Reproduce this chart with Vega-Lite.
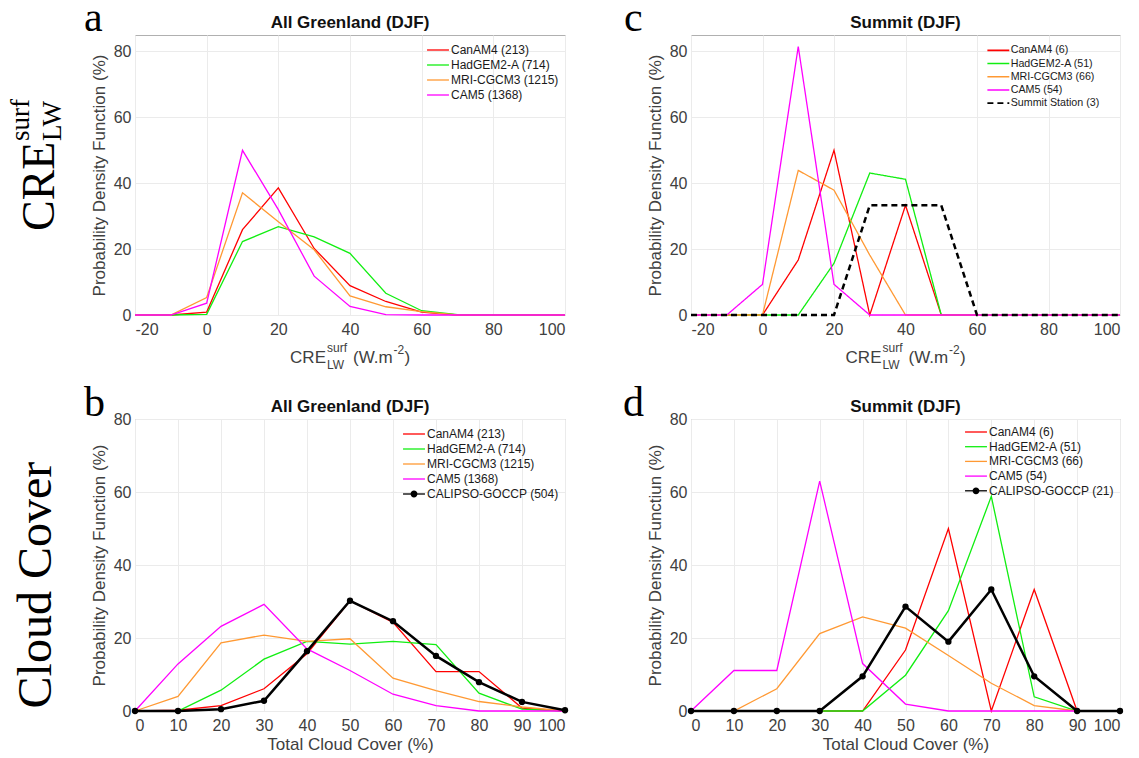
{
  "$schema": "https://vega.github.io/schema/vega-lite/v6.json",
  "padding": {"left": 6, "top": -4, "right": 5, "bottom": 5},
  "bounds": "flush",
  "background": "white",
  "config": {
    "font": "Liberation Sans",
    "view": {"stroke": "#b0b0b0"},
    "axis": {"domain": false, "ticks": false, "grid": true, "gridColor": "#ebebeb", "labelFont": "Liberation Sans", "labelFontSize": 16, "labelColor": "#404040", "titleFont": "Liberation Sans", "titleFontSize": 17, "titleFontWeight": "normal", "titleColor": "#404040"},
    "axisX": {"labelPadding": 6, "titlePadding": 3},
    "axisY": {"labelPadding": 4, "titlePadding": 5}
  },
  "datasets": {
    "a": [
      {"s":"CanAM4 (213)","x":-20,"y":0},{"s":"CanAM4 (213)","x":-10,"y":0},{"s":"CanAM4 (213)","x":0,"y":0.9},{"s":"CanAM4 (213)","x":10,"y":25.9},{"s":"CanAM4 (213)","x":20,"y":38.6},{"s":"CanAM4 (213)","x":30,"y":20.2},{"s":"CanAM4 (213)","x":40,"y":8.9},{"s":"CanAM4 (213)","x":50,"y":4.1},{"s":"CanAM4 (213)","x":60,"y":0.9},{"s":"CanAM4 (213)","x":70,"y":0},{"s":"CanAM4 (213)","x":80,"y":0},{"s":"CanAM4 (213)","x":90,"y":0},{"s":"CanAM4 (213)","x":100,"y":0},
      {"s":"HadGEM2-A (714)","x":-20,"y":0},{"s":"HadGEM2-A (714)","x":-10,"y":0},{"s":"HadGEM2-A (714)","x":0,"y":0.2},{"s":"HadGEM2-A (714)","x":10,"y":22.3},{"s":"HadGEM2-A (714)","x":20,"y":26.8},{"s":"HadGEM2-A (714)","x":30,"y":23.7},{"s":"HadGEM2-A (714)","x":40,"y":18.7},{"s":"HadGEM2-A (714)","x":50,"y":6.6},{"s":"HadGEM2-A (714)","x":60,"y":1.3},{"s":"HadGEM2-A (714)","x":70,"y":0.1},{"s":"HadGEM2-A (714)","x":80,"y":0},{"s":"HadGEM2-A (714)","x":90,"y":0},{"s":"HadGEM2-A (714)","x":100,"y":0},
      {"s":"MRI-CGCM3 (1215)","x":-20,"y":0},{"s":"MRI-CGCM3 (1215)","x":-10,"y":0},{"s":"MRI-CGCM3 (1215)","x":0,"y":5.3},{"s":"MRI-CGCM3 (1215)","x":10,"y":37.1},{"s":"MRI-CGCM3 (1215)","x":20,"y":28.3},{"s":"MRI-CGCM3 (1215)","x":30,"y":19.8},{"s":"MRI-CGCM3 (1215)","x":40,"y":5.8},{"s":"MRI-CGCM3 (1215)","x":50,"y":2.5},{"s":"MRI-CGCM3 (1215)","x":60,"y":1.0},{"s":"MRI-CGCM3 (1215)","x":70,"y":0},{"s":"MRI-CGCM3 (1215)","x":80,"y":0},{"s":"MRI-CGCM3 (1215)","x":90,"y":0},{"s":"MRI-CGCM3 (1215)","x":100,"y":0},
      {"s":"CAM5 (1368)","x":-20,"y":0},{"s":"CAM5 (1368)","x":-10,"y":0},{"s":"CAM5 (1368)","x":0,"y":3.6},{"s":"CAM5 (1368)","x":10,"y":50},{"s":"CAM5 (1368)","x":20,"y":32},{"s":"CAM5 (1368)","x":30,"y":11.8},{"s":"CAM5 (1368)","x":40,"y":2.6},{"s":"CAM5 (1368)","x":50,"y":0.1},{"s":"CAM5 (1368)","x":60,"y":0},{"s":"CAM5 (1368)","x":70,"y":0},{"s":"CAM5 (1368)","x":80,"y":0},{"s":"CAM5 (1368)","x":90,"y":0},{"s":"CAM5 (1368)","x":100,"y":0}
    ],
    "c": [
      {"s":"CanAM4 (6)","x":-20,"y":0},{"s":"CanAM4 (6)","x":-10,"y":0},{"s":"CanAM4 (6)","x":0,"y":0},{"s":"CanAM4 (6)","x":10,"y":16.7},{"s":"CanAM4 (6)","x":20,"y":50},{"s":"CanAM4 (6)","x":30,"y":0},{"s":"CanAM4 (6)","x":40,"y":33.3},{"s":"CanAM4 (6)","x":50,"y":0},{"s":"CanAM4 (6)","x":60,"y":0},{"s":"CanAM4 (6)","x":70,"y":0},{"s":"CanAM4 (6)","x":80,"y":0},{"s":"CanAM4 (6)","x":90,"y":0},{"s":"CanAM4 (6)","x":100,"y":0},
      {"s":"HadGEM2-A (51)","x":-20,"y":0},{"s":"HadGEM2-A (51)","x":-10,"y":0},{"s":"HadGEM2-A (51)","x":0,"y":0},{"s":"HadGEM2-A (51)","x":10,"y":0},{"s":"HadGEM2-A (51)","x":20,"y":15.7},{"s":"HadGEM2-A (51)","x":30,"y":43.1},{"s":"HadGEM2-A (51)","x":40,"y":41.2},{"s":"HadGEM2-A (51)","x":50,"y":0},{"s":"HadGEM2-A (51)","x":60,"y":0},{"s":"HadGEM2-A (51)","x":70,"y":0},{"s":"HadGEM2-A (51)","x":80,"y":0},{"s":"HadGEM2-A (51)","x":90,"y":0},{"s":"HadGEM2-A (51)","x":100,"y":0},
      {"s":"MRI-CGCM3 (66)","x":-20,"y":0},{"s":"MRI-CGCM3 (66)","x":-10,"y":0},{"s":"MRI-CGCM3 (66)","x":0,"y":0},{"s":"MRI-CGCM3 (66)","x":10,"y":43.9},{"s":"MRI-CGCM3 (66)","x":20,"y":37.9},{"s":"MRI-CGCM3 (66)","x":30,"y":18.2},{"s":"MRI-CGCM3 (66)","x":40,"y":0},{"s":"MRI-CGCM3 (66)","x":50,"y":0},{"s":"MRI-CGCM3 (66)","x":60,"y":0},{"s":"MRI-CGCM3 (66)","x":70,"y":0},{"s":"MRI-CGCM3 (66)","x":80,"y":0},{"s":"MRI-CGCM3 (66)","x":90,"y":0},{"s":"MRI-CGCM3 (66)","x":100,"y":0},
      {"s":"CAM5 (54)","x":-20,"y":0},{"s":"CAM5 (54)","x":-10,"y":0},{"s":"CAM5 (54)","x":0,"y":9.3},{"s":"CAM5 (54)","x":10,"y":81.5},{"s":"CAM5 (54)","x":20,"y":9.3},{"s":"CAM5 (54)","x":30,"y":0},{"s":"CAM5 (54)","x":40,"y":0},{"s":"CAM5 (54)","x":50,"y":0},{"s":"CAM5 (54)","x":60,"y":0},{"s":"CAM5 (54)","x":70,"y":0},{"s":"CAM5 (54)","x":80,"y":0},{"s":"CAM5 (54)","x":90,"y":0},{"s":"CAM5 (54)","x":100,"y":0},
      {"s":"Summit Station (3)","x":-20,"y":0},{"s":"Summit Station (3)","x":-10,"y":0},{"s":"Summit Station (3)","x":0,"y":0},{"s":"Summit Station (3)","x":10,"y":0},{"s":"Summit Station (3)","x":20,"y":0},{"s":"Summit Station (3)","x":30,"y":33.3},{"s":"Summit Station (3)","x":40,"y":33.3},{"s":"Summit Station (3)","x":50,"y":33.3},{"s":"Summit Station (3)","x":60,"y":0},{"s":"Summit Station (3)","x":70,"y":0},{"s":"Summit Station (3)","x":80,"y":0},{"s":"Summit Station (3)","x":90,"y":0},{"s":"Summit Station (3)","x":100,"y":0}
    ],
    "b": [
      {"s":"CanAM4 (213)","x":0,"y":0},{"s":"CanAM4 (213)","x":10,"y":0.2},{"s":"CanAM4 (213)","x":20,"y":1.5},{"s":"CanAM4 (213)","x":30,"y":6.1},{"s":"CanAM4 (213)","x":40,"y":15.7},{"s":"CanAM4 (213)","x":50,"y":30.2},{"s":"CanAM4 (213)","x":60,"y":24.3},{"s":"CanAM4 (213)","x":70,"y":10.8},{"s":"CanAM4 (213)","x":80,"y":10.8},{"s":"CanAM4 (213)","x":90,"y":0.8},{"s":"CanAM4 (213)","x":100,"y":0},
      {"s":"HadGEM2-A (714)","x":0,"y":0},{"s":"HadGEM2-A (714)","x":10,"y":0},{"s":"HadGEM2-A (714)","x":20,"y":5.7},{"s":"HadGEM2-A (714)","x":30,"y":14.2},{"s":"HadGEM2-A (714)","x":40,"y":19.1},{"s":"HadGEM2-A (714)","x":50,"y":18.3},{"s":"HadGEM2-A (714)","x":60,"y":19.1},{"s":"HadGEM2-A (714)","x":70,"y":18.2},{"s":"HadGEM2-A (714)","x":80,"y":4.9},{"s":"HadGEM2-A (714)","x":90,"y":0.5},{"s":"HadGEM2-A (714)","x":100,"y":0},
      {"s":"MRI-CGCM3 (1215)","x":0,"y":0},{"s":"MRI-CGCM3 (1215)","x":10,"y":4.0},{"s":"MRI-CGCM3 (1215)","x":20,"y":18.7},{"s":"MRI-CGCM3 (1215)","x":30,"y":20.8},{"s":"MRI-CGCM3 (1215)","x":40,"y":19.1},{"s":"MRI-CGCM3 (1215)","x":50,"y":19.8},{"s":"MRI-CGCM3 (1215)","x":60,"y":9.0},{"s":"MRI-CGCM3 (1215)","x":70,"y":5.6},{"s":"MRI-CGCM3 (1215)","x":80,"y":2.6},{"s":"MRI-CGCM3 (1215)","x":90,"y":1.1},{"s":"MRI-CGCM3 (1215)","x":100,"y":0},
      {"s":"CAM5 (1368)","x":0,"y":0},{"s":"CAM5 (1368)","x":10,"y":12.9},{"s":"CAM5 (1368)","x":20,"y":23.2},{"s":"CAM5 (1368)","x":30,"y":29.2},{"s":"CAM5 (1368)","x":40,"y":17},{"s":"CAM5 (1368)","x":50,"y":11.1},{"s":"CAM5 (1368)","x":60,"y":4.6},{"s":"CAM5 (1368)","x":70,"y":1.5},{"s":"CAM5 (1368)","x":80,"y":0},{"s":"CAM5 (1368)","x":90,"y":0},{"s":"CAM5 (1368)","x":100,"y":0},
      {"s":"CALIPSO-GOCCP (504)","x":0,"y":0},{"s":"CALIPSO-GOCCP (504)","x":10,"y":0},{"s":"CALIPSO-GOCCP (504)","x":20,"y":0.5},{"s":"CALIPSO-GOCCP (504)","x":30,"y":2.8},{"s":"CALIPSO-GOCCP (504)","x":40,"y":16.4},{"s":"CALIPSO-GOCCP (504)","x":50,"y":30.2},{"s":"CALIPSO-GOCCP (504)","x":60,"y":24.6},{"s":"CALIPSO-GOCCP (504)","x":70,"y":15.1},{"s":"CALIPSO-GOCCP (504)","x":80,"y":7.9},{"s":"CALIPSO-GOCCP (504)","x":90,"y":2.5},{"s":"CALIPSO-GOCCP (504)","x":100,"y":0.2}
    ],
    "d": [
      {"s":"CanAM4 (6)","x":0,"y":0},{"s":"CanAM4 (6)","x":10,"y":0},{"s":"CanAM4 (6)","x":20,"y":0},{"s":"CanAM4 (6)","x":30,"y":0},{"s":"CanAM4 (6)","x":40,"y":0},{"s":"CanAM4 (6)","x":50,"y":16.7},{"s":"CanAM4 (6)","x":60,"y":50},{"s":"CanAM4 (6)","x":70,"y":0},{"s":"CanAM4 (6)","x":80,"y":33.3},{"s":"CanAM4 (6)","x":90,"y":0},{"s":"CanAM4 (6)","x":100,"y":0},
      {"s":"HadGEM2-A (51)","x":0,"y":0},{"s":"HadGEM2-A (51)","x":10,"y":0},{"s":"HadGEM2-A (51)","x":20,"y":0},{"s":"HadGEM2-A (51)","x":30,"y":0},{"s":"HadGEM2-A (51)","x":40,"y":0},{"s":"HadGEM2-A (51)","x":50,"y":9.8},{"s":"HadGEM2-A (51)","x":60,"y":27.5},{"s":"HadGEM2-A (51)","x":70,"y":58.8},{"s":"HadGEM2-A (51)","x":80,"y":3.9},{"s":"HadGEM2-A (51)","x":90,"y":0},{"s":"HadGEM2-A (51)","x":100,"y":0},
      {"s":"MRI-CGCM3 (66)","x":0,"y":0},{"s":"MRI-CGCM3 (66)","x":10,"y":0},{"s":"MRI-CGCM3 (66)","x":20,"y":6.1},{"s":"MRI-CGCM3 (66)","x":30,"y":21.2},{"s":"MRI-CGCM3 (66)","x":40,"y":25.8},{"s":"MRI-CGCM3 (66)","x":50,"y":22.7},{"s":"MRI-CGCM3 (66)","x":60,"y":15.2},{"s":"MRI-CGCM3 (66)","x":70,"y":7.6},{"s":"MRI-CGCM3 (66)","x":80,"y":1.5},{"s":"MRI-CGCM3 (66)","x":90,"y":0},{"s":"MRI-CGCM3 (66)","x":100,"y":0},
      {"s":"CAM5 (54)","x":0,"y":0},{"s":"CAM5 (54)","x":10,"y":11.1},{"s":"CAM5 (54)","x":20,"y":11.1},{"s":"CAM5 (54)","x":30,"y":63.0},{"s":"CAM5 (54)","x":40,"y":13.0},{"s":"CAM5 (54)","x":50,"y":1.9},{"s":"CAM5 (54)","x":60,"y":0},{"s":"CAM5 (54)","x":70,"y":0},{"s":"CAM5 (54)","x":80,"y":0},{"s":"CAM5 (54)","x":90,"y":0},{"s":"CAM5 (54)","x":100,"y":0},
      {"s":"CALIPSO-GOCCP (21)","x":0,"y":0},{"s":"CALIPSO-GOCCP (21)","x":10,"y":0},{"s":"CALIPSO-GOCCP (21)","x":20,"y":0},{"s":"CALIPSO-GOCCP (21)","x":30,"y":0},{"s":"CALIPSO-GOCCP (21)","x":40,"y":9.5},{"s":"CALIPSO-GOCCP (21)","x":50,"y":28.6},{"s":"CALIPSO-GOCCP (21)","x":60,"y":19.0},{"s":"CALIPSO-GOCCP (21)","x":70,"y":33.3},{"s":"CALIPSO-GOCCP (21)","x":80,"y":9.5},{"s":"CALIPSO-GOCCP (21)","x":90,"y":0},{"s":"CALIPSO-GOCCP (21)","x":100,"y":0}
    ]
  },
  "resolve": {"scale": {"x": "independent", "y": "independent", "color": "independent", "strokeDash": "independent", "opacity": "independent"}, "legend": {"color": "independent", "strokeDash": "independent", "opacity": "independent"}},
  "columns": 2,
  "spacing": {"row": 104, "column": 126},
  "concat": [
    {
      "width": 430, "height": 280,
      "layer": [
        {
          "data": {"name": "a"},
          "mark": {"type": "line", "strokeWidth": 1.3},
          "encoding": {
            "x": {"field": "x", "type": "quantitative", "scale": {"domain": [-20, 100], "nice": false}, "axis": {"values": [-20, 0, 20, 40, 60, 80, 100], "title": null, "labelExpr": "'' + datum.value"}},
            "y": {"field": "y", "type": "quantitative", "scale": {"domain": [0, 85], "nice": false}, "axis": {"values": [0, 10, 20, 30, 40, 50, 60, 70, 80], "title": "Probability Density Function (%)"}},
            "color": {"field": "s", "type": "nominal", "sort": null,
              "scale": {"domain": ["CanAM4 (213)", "HadGEM2-A (714)", "MRI-CGCM3 (1215)", "CAM5 (1368)"], "range": ["#ff0000", "#11ee11", "#ff9933", "#ff00ff"]},
              "legend": {"title": null, "orient": "none", "legendX": 297, "legendY": 9, "padding": 0, "labelFontSize": 12, "labelColor": "#1a1a1a", "labelOffset": 7, "rowPadding": 3, "symbolSize": 30, "symbolType": "M-4,0L4,0", "symbolStrokeWidth": 1.3}}
          }
        },
        {"data": {"values": [{}]}, "mark": {"type": "text", "text": "All Greenland (DJF)", "fontSize": 17, "fontWeight": "bold", "color": "#111111", "align": "center", "baseline": "alphabetic", "dy": -7}, "encoding": {"x": {"datum": 40}, "y": {"datum": 85}}},
        {"data": {"values": [{}]}, "mark": {"type": "text", "text": "CRE", "fontSize": 17, "color": "#404040", "align": "right", "baseline": "alphabetic", "dx": -24, "dy": 48}, "encoding": {"x": {"datum": 40}, "y": {"datum": 0}}},
        {"data": {"values": [{}]}, "mark": {"type": "text", "text": "surf", "fontSize": 12, "color": "#404040", "align": "left", "baseline": "alphabetic", "dx": -23, "dy": 37}, "encoding": {"x": {"datum": 40}, "y": {"datum": 0}}},
        {"data": {"values": [{}]}, "mark": {"type": "text", "text": "LW", "fontSize": 12, "color": "#404040", "align": "left", "baseline": "alphabetic", "dx": -23, "dy": 54}, "encoding": {"x": {"datum": 40}, "y": {"datum": 0}}},
        {"data": {"values": [{}]}, "mark": {"type": "text", "text": "(W.m", "fontSize": 17, "color": "#404040", "align": "left", "baseline": "alphabetic", "dx": 3, "dy": 48}, "encoding": {"x": {"datum": 40}, "y": {"datum": 0}}},
        {"data": {"values": [{}]}, "mark": {"type": "text", "text": "-2", "fontSize": 12, "color": "#404040", "align": "left", "baseline": "alphabetic", "dx": 43.6, "dy": 39}, "encoding": {"x": {"datum": 40}, "y": {"datum": 0}}},
        {"data": {"values": [{}]}, "mark": {"type": "text", "text": ")", "fontSize": 17, "color": "#404040", "align": "left", "baseline": "alphabetic", "dx": 54.5, "dy": 48}, "encoding": {"x": {"datum": 40}, "y": {"datum": 0}}},
        {"data": {"values": [{}]}, "mark": {"type": "text", "text": "a", "font": "Liberation Serif", "fontSize": 42, "color": "#000000", "align": "left", "baseline": "alphabetic", "dx": -51, "dy": -4}, "encoding": {"x": {"datum": -20}, "y": {"datum": 85}}},
        {"data": {"values": [{}]}, "mark": {"type": "text", "text": "CRE", "font": "Liberation Serif", "fontSize": 46, "color": "#000000", "angle": 270, "align": "left", "baseline": "alphabetic", "dx": -56, "dy": -81}, "encoding": {"x": {"datum": -20}, "y": {"datum": 42.5}}},
        {"data": {"values": [{}]}, "mark": {"type": "text", "text": "surf", "font": "Liberation Serif", "fontSize": 27, "color": "#000000", "angle": 270, "align": "left", "baseline": "alphabetic", "dx": 34, "dy": -106}, "encoding": {"x": {"datum": -20}, "y": {"datum": 42.5}}},
        {"data": {"values": [{}]}, "mark": {"type": "text", "text": "LW", "font": "Liberation Serif", "fontSize": 27, "color": "#000000", "angle": 270, "align": "left", "baseline": "alphabetic", "dx": 34, "dy": -74}, "encoding": {"x": {"datum": -20}, "y": {"datum": 42.5}}}
      ]
    },
    {
      "width": 429, "height": 280,
      "layer": [
        {
          "data": {"name": "c"},
          "transform": [{"filter": "indexof(datum.s, 'Summit') < 0"}],
          "mark": {"type": "line", "strokeWidth": 1.3},
          "encoding": {
            "x": {"field": "x", "type": "quantitative", "scale": {"domain": [-20, 100], "nice": false}, "axis": {"values": [-20, 0, 20, 40, 60, 80, 100], "title": null, "labelExpr": "'' + datum.value"}},
            "y": {"field": "y", "type": "quantitative", "scale": {"domain": [0, 85], "nice": false}, "axis": {"values": [0, 10, 20, 30, 40, 50, 60, 70, 80], "title": "Probability Density Function (%)"}},
            "color": {"field": "s", "type": "nominal", "sort": null,
              "scale": {"domain": ["CanAM4 (6)", "HadGEM2-A (51)", "MRI-CGCM3 (66)", "CAM5 (54)", "Summit Station (3)"], "range": ["#ff0000", "#11ee11", "#ff9933", "#ff00ff", "#000000"]},
              "legend": {"title": null, "orient": "none", "legendX": 302, "legendY": 10, "padding": 0, "labelFontSize": 10.7, "labelColor": "#1a1a1a", "labelOffset": 7, "rowPadding": 1.2, "symbolSize": 30, "symbolType": "M-4,0L4,0", "symbolStrokeWidth": 1.6}},
            "strokeDash": {"field": "s", "type": "nominal", "sort": null,
              "scale": {"domain": ["CanAM4 (6)", "HadGEM2-A (51)", "MRI-CGCM3 (66)", "CAM5 (54)", "Summit Station (3)"], "range": [[1, 0], [1, 0], [1, 0], [1, 0], [6, 4]]},
              "legend": {"title": null, "orient": "none", "legendX": 302, "legendY": 10, "padding": 0, "labelFontSize": 10.7, "labelColor": "#1a1a1a", "labelOffset": 7, "rowPadding": 1.2, "symbolSize": 30, "symbolType": "M-4,0L4,0", "symbolStrokeWidth": 1.6}}
          }
        },
        {
          "data": {"name": "c"},
          "transform": [{"filter": "indexof(datum.s, 'Summit') >= 0"}],
          "mark": {"type": "line", "strokeWidth": 2.5},
          "encoding": {
            "x": {"field": "x", "type": "quantitative"},
            "y": {"field": "y", "type": "quantitative"},
            "color": {"field": "s", "type": "nominal", "sort": null},
            "strokeDash": {"field": "s", "type": "nominal", "sort": null}
          }
        },
        {"data": {"values": [{}]}, "mark": {"type": "text", "text": "Summit (DJF)", "fontSize": 17, "fontWeight": "bold", "color": "#111111", "align": "center", "baseline": "alphabetic", "dy": -7}, "encoding": {"x": {"datum": 40}, "y": {"datum": 85}}},
        {"data": {"values": [{}]}, "mark": {"type": "text", "text": "CRE", "fontSize": 17, "color": "#404040", "align": "right", "baseline": "alphabetic", "dx": -24, "dy": 48}, "encoding": {"x": {"datum": 40}, "y": {"datum": 0}}},
        {"data": {"values": [{}]}, "mark": {"type": "text", "text": "surf", "fontSize": 12, "color": "#404040", "align": "left", "baseline": "alphabetic", "dx": -23, "dy": 37}, "encoding": {"x": {"datum": 40}, "y": {"datum": 0}}},
        {"data": {"values": [{}]}, "mark": {"type": "text", "text": "LW", "fontSize": 12, "color": "#404040", "align": "left", "baseline": "alphabetic", "dx": -23, "dy": 54}, "encoding": {"x": {"datum": 40}, "y": {"datum": 0}}},
        {"data": {"values": [{}]}, "mark": {"type": "text", "text": "(W.m", "fontSize": 17, "color": "#404040", "align": "left", "baseline": "alphabetic", "dx": 3, "dy": 48}, "encoding": {"x": {"datum": 40}, "y": {"datum": 0}}},
        {"data": {"values": [{}]}, "mark": {"type": "text", "text": "-2", "fontSize": 12, "color": "#404040", "align": "left", "baseline": "alphabetic", "dx": 43.6, "dy": 39}, "encoding": {"x": {"datum": 40}, "y": {"datum": 0}}},
        {"data": {"values": [{}]}, "mark": {"type": "text", "text": ")", "fontSize": 17, "color": "#404040", "align": "left", "baseline": "alphabetic", "dx": 54.5, "dy": 48}, "encoding": {"x": {"datum": 40}, "y": {"datum": 0}}},
        {"data": {"values": [{}]}, "mark": {"type": "text", "text": "c", "font": "Liberation Serif", "fontSize": 42, "color": "#000000", "align": "left", "baseline": "alphabetic", "dx": -67, "dy": -4}, "encoding": {"x": {"datum": -20}, "y": {"datum": 85}}}
      ]
    },
    {
      "width": 430, "height": 292,
      "layer": [
        {
          "data": {"name": "b"},
          "transform": [{"filter": "indexof(datum.s, 'CALIPSO') < 0"}],
          "mark": {"type": "line", "strokeWidth": 1.3},
          "encoding": {
            "x": {"field": "x", "type": "quantitative", "scale": {"domain": [0, 100], "nice": false}, "axis": {"values": [0, 10, 20, 30, 40, 50, 60, 70, 80, 90, 100], "title": "Total Cloud Cover (%)"}},
            "y": {"field": "y", "type": "quantitative", "scale": {"domain": [0, 80], "nice": false}, "axis": {"values": [0, 10, 20, 30, 40, 50, 60, 70, 80], "title": "Probability Density Function (%)"}},
            "color": {"field": "s", "type": "nominal", "sort": null,
              "scale": {"domain": ["CanAM4 (213)", "HadGEM2-A (714)", "MRI-CGCM3 (1215)", "CAM5 (1368)", "CALIPSO-GOCCP (504)"], "range": ["#ff0000", "#11ee11", "#ff9933", "#ff00ff", "#000000"]},
              "legend": {"title": null, "orient": "none", "legendX": 273, "legendY": 9, "padding": 0, "labelFontSize": 12, "labelColor": "#1a1a1a", "labelOffset": 7, "rowPadding": 3, "symbolSize": 30, "symbolType": "M-4,0L4,0", "symbolStrokeWidth": 1.3}}
          }
        },
        {
          "data": {"name": "b"},
          "transform": [{"filter": "indexof(datum.s, 'CALIPSO') >= 0"}],
          "mark": {"type": "line", "strokeWidth": 2.5},
          "encoding": {
            "x": {"field": "x", "type": "quantitative"},
            "y": {"field": "y", "type": "quantitative"},
            "color": {"field": "s", "type": "nominal", "sort": null}
          }
        },
        {
          "data": {"name": "b"},
          "transform": [{"filter": "indexof(datum.s, 'CALIPSO') >= 0"}],
          "mark": {"type": "point", "filled": true, "size": 40, "color": "#000000"},
          "encoding": {
            "x": {"field": "x", "type": "quantitative"},
            "y": {"field": "y", "type": "quantitative"},
            "opacity": {"field": "s", "type": "nominal", "scale": {"type": "ordinal", "domain": ["CALIPSO-GOCCP (504)"], "range": [1]},
              "legend": {"title": null, "orient": "none", "legendX": 273, "legendY": 69, "padding": 0, "labelFontSize": 12, "labelOpacity": 0, "labelOffset": 7, "symbolSize": 30, "symbolType": "M-4,0L4,0M-1.25,0A1.25,1.25,0,1,1,1.25,0A1.25,1.25,0,1,1,-1.25,0Z", "symbolStrokeWidth": 2.5, "symbolStrokeColor": "#000000", "symbolFillColor": "#000000"}}
          }
        },
        {"data": {"values": [{}]}, "mark": {"type": "text", "text": "All Greenland (DJF)", "fontSize": 17, "fontWeight": "bold", "color": "#111111", "align": "center", "baseline": "alphabetic", "dy": -7}, "encoding": {"x": {"datum": 50}, "y": {"datum": 80}}},
        {"data": {"values": [{}]}, "mark": {"type": "text", "text": "b", "font": "Liberation Serif", "fontSize": 42, "color": "#000000", "align": "left", "baseline": "alphabetic", "dx": -51, "dy": -3}, "encoding": {"x": {"datum": 0}, "y": {"datum": 80}}},
        {"data": {"values": [{}]}, "mark": {"type": "text", "text": "Cloud Cover", "font": "Liberation Serif", "fontSize": 48, "color": "#000000", "angle": 270, "align": "center", "baseline": "alphabetic", "dx": 0, "dy": -84}, "encoding": {"x": {"datum": 0}, "y": {"datum": 34.5}}}
      ]
    },
    {
      "width": 429, "height": 292,
      "layer": [
        {
          "data": {"name": "d"},
          "transform": [{"filter": "indexof(datum.s, 'CALIPSO') < 0"}],
          "mark": {"type": "line", "strokeWidth": 1.3},
          "encoding": {
            "x": {"field": "x", "type": "quantitative", "scale": {"domain": [0, 100], "nice": false}, "axis": {"values": [0, 10, 20, 30, 40, 50, 60, 70, 80, 90, 100], "title": "Total Cloud Cover (%)"}},
            "y": {"field": "y", "type": "quantitative", "scale": {"domain": [0, 80], "nice": false}, "axis": {"values": [0, 10, 20, 30, 40, 50, 60, 70, 80], "title": "Probability Density Functiun (%)"}},
            "color": {"field": "s", "type": "nominal", "sort": null,
              "scale": {"domain": ["CanAM4 (6)", "HadGEM2-A (51)", "MRI-CGCM3 (66)", "CAM5 (54)", "CALIPSO-GOCCP (21)"], "range": ["#ff0000", "#11ee11", "#ff9933", "#ff00ff", "#000000"]},
              "legend": {"title": null, "orient": "none", "legendX": 279, "legendY": 7, "padding": 0, "labelFontSize": 12, "labelColor": "#1a1a1a", "labelOffset": 7, "rowPadding": 2.7, "symbolSize": 30, "symbolType": "M-4,0L4,0", "symbolStrokeWidth": 1.3}}
          }
        },
        {
          "data": {"name": "d"},
          "transform": [{"filter": "indexof(datum.s, 'CALIPSO') >= 0"}],
          "mark": {"type": "line", "strokeWidth": 2.5},
          "encoding": {
            "x": {"field": "x", "type": "quantitative"},
            "y": {"field": "y", "type": "quantitative"},
            "color": {"field": "s", "type": "nominal", "sort": null}
          }
        },
        {
          "data": {"name": "d"},
          "transform": [{"filter": "indexof(datum.s, 'CALIPSO') >= 0"}],
          "mark": {"type": "point", "filled": true, "size": 40, "color": "#000000"},
          "encoding": {
            "x": {"field": "x", "type": "quantitative"},
            "y": {"field": "y", "type": "quantitative"},
            "opacity": {"field": "s", "type": "nominal", "scale": {"type": "ordinal", "domain": ["CALIPSO-GOCCP (21)"], "range": [1]},
              "legend": {"title": null, "orient": "none", "legendX": 279, "legendY": 65.8, "padding": 0, "labelFontSize": 12, "labelOpacity": 0, "labelOffset": 7, "symbolSize": 30, "symbolType": "M-4,0L4,0M-1.25,0A1.25,1.25,0,1,1,1.25,0A1.25,1.25,0,1,1,-1.25,0Z", "symbolStrokeWidth": 2.5, "symbolStrokeColor": "#000000", "symbolFillColor": "#000000"}}
          }
        },
        {"data": {"values": [{}]}, "mark": {"type": "text", "text": "Summit (DJF)", "fontSize": 17, "fontWeight": "bold", "color": "#111111", "align": "center", "baseline": "alphabetic", "dy": -7}, "encoding": {"x": {"datum": 50}, "y": {"datum": 80}}},
        {"data": {"values": [{}]}, "mark": {"type": "text", "text": "d", "font": "Liberation Serif", "fontSize": 42, "color": "#000000", "align": "left", "baseline": "alphabetic", "dx": -68, "dy": -3}, "encoding": {"x": {"datum": 0}, "y": {"datum": 80}}}
      ]
    }
  ]
}
